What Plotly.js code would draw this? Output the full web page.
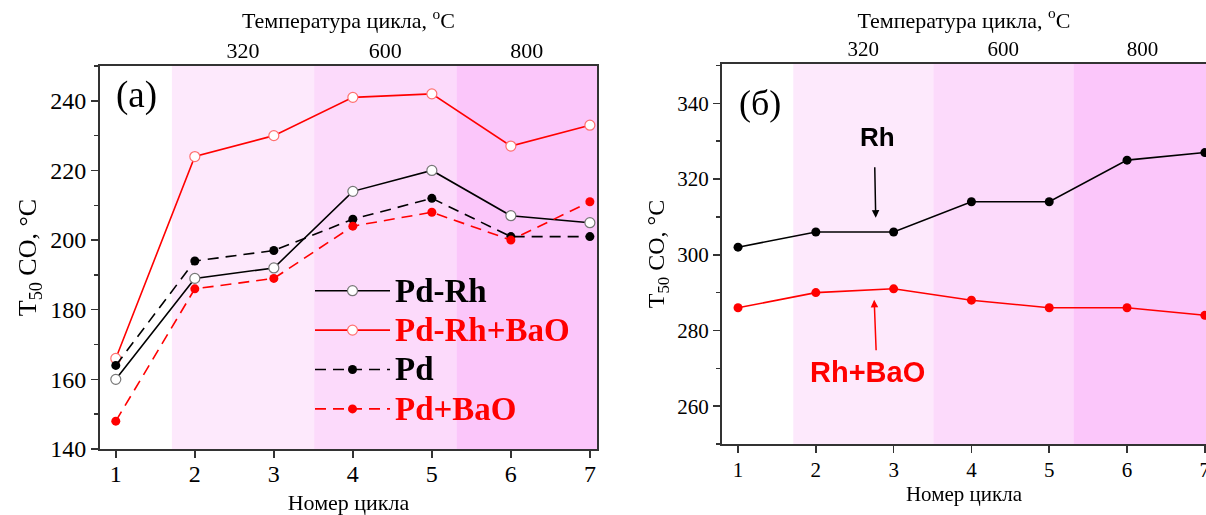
<!DOCTYPE html>
<html>
<head>
<meta charset="utf-8">
<script src="https://cdn.plot.ly/plotly-3.0.1.min.js"></script>
<style>html,body{margin:0;padding:0;background:#fff}#chart{width:1206px;height:515px}</style>
</head>
<body>
<div id="chart"></div>
<script>
// ---- data ----
const cycles = [1, 2, 3, 4, 5, 6, 7];
const pdRh    = [160, 189, 192, 214, 220, 207, 205];
const pdRhBaO = [166, 224, 230, 241, 242, 227, 233];
const pd      = [164, 194, 197, 206, 212, 201, 201];
const pdBaO   = [148, 186, 189, 204, 208, 200, 211];
const rh      = [302, 306, 306, 314, 314, 325, 327];
const rhBaO   = [286, 290, 291, 288, 286, 286, 284];
const tempLabels = ['320', '600', '800'];
const cycleTitle = 'Номер цикла';
const tempTitle = 'Температура цикла, <sup>o</sup>C';
const yTitle = 'T<sub>50</sub> CO, °C';

// ---- layout helpers ----
const bandEdges = [1.71, 3.51, 5.31, 7.09];
const bandColors = ['#fde9fc', '#fcdafb', '#fbc6fa'];
const tempTickPos = tempLabels.map((_, i) => (bandEdges[i] + bandEdges[i + 1]) / 2);
const serif = 'Liberation Serif';
const axisCol = '#333333';
const legName = (t, c) => '<span style="font-size:33px;color:' + c + '">' + t + '</span>';

function shapesFor(xref, yref) {
  return bandColors.map((c, i) => ({
    type: 'rect', xref: xref, yref: yref + ' domain',
    x0: bandEdges[i], x1: bandEdges[i + 1], y0: 0, y1: 1,
    fillcolor: c, line: {width: 0}, layer: 'below'
  }));
}

const dashPat = '11px,7px';
const traces = [
  {x: cycles, y: pdRh, name: legName('Pd-Rh', '#000000'), mode: 'lines+markers', xaxis: 'x', yaxis: 'y',
   line: {color: '#000', width: 1.6},
   marker: {symbol: 'circle', size: 10, color: '#fff', line: {color: '#777', width: 1.2}}},
  {x: cycles, y: pdRhBaO, name: legName('Pd-Rh+BaO', '#ff0000'), mode: 'lines+markers', xaxis: 'x', yaxis: 'y',
   line: {color: '#ff0000', width: 1.6},
   marker: {symbol: 'circle', size: 10, color: '#fff', line: {color: '#ff7070', width: 1.2}}},
  {x: cycles, y: pd, name: legName('Pd', '#000000'), mode: 'lines+markers', xaxis: 'x', yaxis: 'y',
   line: {color: '#000', width: 1.6, dash: dashPat},
   marker: {symbol: 'circle', size: 9, color: '#000'}},
  {x: cycles, y: pdBaO, name: legName('Pd+BaO', '#ff0000'), mode: 'lines+markers', xaxis: 'x', yaxis: 'y',
   line: {color: '#ff0000', width: 1.6, dash: dashPat},
   marker: {symbol: 'circle', size: 9, color: '#ff0000'}},
  {x: cycles, y: rh, name: 'Rh', mode: 'lines+markers', xaxis: 'x2', yaxis: 'y2', showlegend: false,
   line: {color: '#000', width: 1.6},
   marker: {symbol: 'circle', size: 9, color: '#000'}},
  {x: cycles, y: rhBaO, name: 'Rh+BaO', mode: 'lines+markers', xaxis: 'x2', yaxis: 'y2', showlegend: false,
   line: {color: '#ff0000', width: 1.6},
   marker: {symbol: 'circle', size: 9, color: '#ff0000'}},
  // invisible traces to activate the top axes
  {x: cycles, y: pd, xaxis: 'x3', yaxis: 'y', mode: 'markers', opacity: 0, showlegend: false, hoverinfo: 'skip'},
  {x: cycles, y: rh, xaxis: 'x4', yaxis: 'y2', mode: 'markers', opacity: 0, showlegend: false, hoverinfo: 'skip'}
];

const W = 1206, H = 515;
const px = v => v / W, py = v => (H - v) / H;

function xAx(domain, range, anchor, fs, titleFs, standoff, labelShift) {
  return {
    domain: domain, range: range, anchor: anchor, tickmode: 'array', tickvals: cycles,
    ticks: 'outside', ticklen: 7, tickwidth: 1.5, tickcolor: axisCol,
    showline: true, linecolor: axisCol, linewidth: 2, mirror: true,
    showgrid: false, zeroline: false, ticklabeloverflow: 'allow',
    ticklabelstandoff: labelShift,
    tickfont: {family: serif, size: fs, color: '#000'},
    title: {text: cycleTitle, font: {family: serif, size: titleFs, color: '#000'}, standoff: standoff}
  };
}
function topAx(overlay, range, anchor, fs) {
  return {
    overlaying: overlay, side: 'top', anchor: anchor, range: range,
    tickmode: 'array', tickvals: tempTickPos, ticktext: tempLabels,
    ticks: '', showline: false, showgrid: false, zeroline: false,
    ticklabelstandoff: 3,
    tickfont: {family: serif, size: fs, color: '#000'},
    title: {text: tempTitle, font: {family: serif, size: 22, color: '#000'}, standoff: 2}
  };
}
function yAx(domain, range, anchor, dtick, fs, titleFs, standoff, mirror) {
  return {
    domain: domain, range: range, anchor: anchor, dtick: dtick, tick0: 0,
    ticks: 'outside', ticklen: 7, tickwidth: 1.5, tickcolor: axisCol,
    minor: {dtick: dtick / 2, ticks: 'outside', ticklen: 4, tickwidth: 1.5, tickcolor: axisCol, showgrid: false},
    showline: true, linecolor: axisCol, linewidth: 2, mirror: mirror,
    showgrid: false, zeroline: false,
    tickfont: {family: serif, size: fs, color: '#000'},
    title: {text: yTitle, font: {family: serif, size: titleFs, color: '#000'}, standoff: standoff}
  };
}

const layout = {
  width: W, height: H,
  margin: {l: 0, r: 0, t: 0, b: 0},
  paper_bgcolor: '#fff', plot_bgcolor: 'rgba(0,0,0,0)',
  font: {family: serif, color: '#000'},
  showlegend: true,
  legend: {
    x: px(310), y: py(266), xanchor: 'left', yanchor: 'top',
    bgcolor: 'rgba(0,0,0,0)', borderwidth: 0,
    font: {family: serif, size: 28, color: '#000', weight: 'bold'},
    itemwidth: 75, tracegroupgap: 0
  },
  xaxis: xAx([px(100), px(597)], [0.80, 7.09], 'y', 24, 22, 10, -5),
  yaxis: yAx([py(449), py(66)], [140, 250], 'x', 20, 24, 26, 6, true),
  xaxis2: xAx([px(722), 1], [0.794, 7.015], 'y2', 21, 21, 0, -1),
  yaxis2: yAx([py(444), py(64)], [250, 350.4], 'x2', 20, 21, 24, 6, false),
  xaxis3: topAx('x', [0.80, 7.09], 'y', 22),
  xaxis4: topAx('x2', [0.794, 7.015], 'y2', 21),
  shapes: shapesFor('x', 'y').concat(shapesFor('x2', 'y2')),
  annotations: [
    {xref: 'x', yref: 'y', x: 1.26, y: 241.7, text: '(a)', showarrow: false,
     font: {family: serif, size: 37, color: '#000'}},
    {xref: 'x2', yref: 'y2', x: 1.28, y: 340, text: '(б)', showarrow: false,
     font: {family: serif, size: 36, color: '#000'}},
    {xref: 'x2', yref: 'y2', x: 2.79, y: 331.2, text: '<b>Rh</b>', showarrow: false,
     font: {family: 'Liberation Sans', size: 26, color: '#000'}},
    {xref: 'x2', yref: 'y2', x: 2.77, y: 309.8, text: '', showarrow: true,
     axref: 'pixel', ayref: 'pixel', ax: -1, ay: -52,
     arrowhead: 2, arrowsize: 1, arrowwidth: 1.5, arrowcolor: '#000'},
    {xref: 'x2', yref: 'y2', x: 2.66, y: 269.1, text: '<b>Rh+BaO</b>', showarrow: false,
     font: {family: 'Liberation Sans', size: 29, color: '#ff0000'}},
    {xref: 'x2', yref: 'y2', x: 2.75, y: 288.1, text: '', showarrow: true,
     axref: 'pixel', ayref: 'pixel', ax: 2, ay: 52,
     arrowhead: 2, arrowsize: 1, arrowwidth: 1.5, arrowcolor: '#ff0000'}
  ]
};

Plotly.newPlot('chart', traces, layout, {displayModeBar: false, staticPlot: true});
</script>
</body>
</html>
